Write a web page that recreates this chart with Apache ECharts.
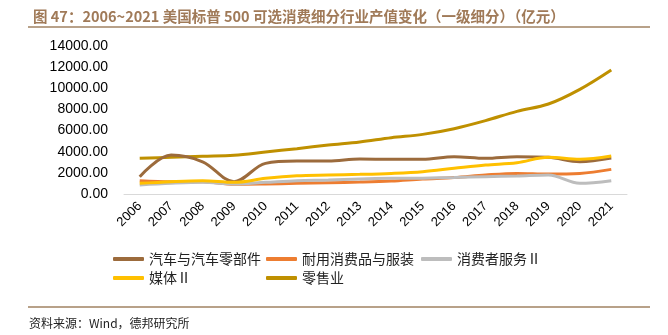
<!DOCTYPE html>
<html><head><meta charset="utf-8">
<script src="https://cdn.jsdelivr.net/npm/echarts@6/dist/echarts.min.js"></script>
<style>html,body{margin:0;padding:0;background:#fff}#c{width:668px;height:335px}</style>
</head><body><div id="c"></div>
<script>
const years = ['2006','2007','2008','2009','2010','2011','2012','2013','2014','2015','2016','2017','2018','2019','2020','2021'];
const autoParts = [1640, 3680, 3050, 1170, 2900, 3120, 3120, 3310, 3280, 3280, 3530, 3370, 3530, 3470, 3060, 3400];
const durables = [1260, 1170, 1170, 915, 950, 1010, 1070, 1130, 1230, 1420, 1550, 1800, 1950, 1890, 1950, 2330];
const consumerSvc = [850, 1010, 1100, 950, 1100, 1260, 1320, 1420, 1480, 1500, 1560, 1640, 1700, 1800, 1010, 1260];
const media = [1010, 1170, 1260, 1100, 1480, 1730, 1800, 1860, 1950, 2110, 2430, 2740, 2960, 3470, 3280, 3590];
const retail = [3380, 3470, 3570, 3660, 3970, 4290, 4630, 4920, 5330, 5640, 6180, 6940, 7820, 8510, 9900, 11730];
const yTicks = [0, 2000, 4000, 6000, 8000, 10000, 12000, 14000];
const names = ['汽车与汽车零部件','耐用消费品与服装','消费者服务Ⅱ','媒体Ⅱ','零售业'];
const colors = ['#9C6B3C','#ED7D31','#BDBDBD','#FFC000','#BF9000'];
const seriesData = [autoParts, durables, consumerSvc, media, retail];

const cjk = '"Noto Sans CJK SC", "Noto Sans", sans-serif';
const legendPos = [[113,252],[266,252],[421,252],[113,271],[266,271]];
const chart = echarts.init(document.getElementById('c'));
chart.setOption({
  animation: false,
  title: {
    text: '图 47：2006~2021 美国标普 500 可选消费细分行业产值变化（一级细分）（亿元）',
    left: 28, top: 4,
    textStyle: {fontSize: 14.5, fontWeight: 'bold', color: '#A07A58', fontFamily: cjk}
  },
  legend: names.map((n, i) => ({
    data: [n], left: legendPos[i][0], top: legendPos[i][1],
    icon: 'roundRect', itemWidth: 31, itemHeight: 4, padding: 0,
    textStyle: {fontSize: 14, color: '#222', fontFamily: cjk}
  })),
  grid: {left: 124, right: 41, top: 46, bottom: 141},
  xAxis: {
    type: 'category', data: years, boundaryGap: true,
    axisLine: {lineStyle: {color: '#D9D9D9', width: 1}},
    axisTick: {show: false},
    axisLabel: {rotate: 45, fontSize: 13, color: '#000', margin: 10, fontFamily: 'Liberation Sans, Arial, sans-serif', interval: 0}
  },
  yAxis: {
    type: 'value', min: yTicks[0], max: yTicks[yTicks.length-1], interval: 2000,
    axisLine: {show: false}, axisTick: {show: false}, splitLine: {show: false},
    axisLabel: {fontSize: 14, color: '#000', margin: 16, fontFamily: 'Liberation Sans, Arial, sans-serif',
      formatter: v => v.toFixed(2)}
  },
  series: names.map((n, i) => ({
    name: n, type: 'line', data: seriesData[i], smooth: 0.35, symbol: 'none',
    lineStyle: {width: 3, color: colors[i]}, itemStyle: {color: colors[i]},
    z: i === 4 ? 1 : 2
  })),
  graphic: [
    {type: 'line', shape: {x1: 28, y1: 27, x2: 650, y2: 27}, style: {stroke: '#A08262', lineWidth: 1.5}},
    {type: 'line', shape: {x1: 28, y1: 307, x2: 650, y2: 307}, style: {stroke: '#A08262', lineWidth: 1.5}},
    {type: 'text', left: 29, top: 317, style: {text: '资料来源：Wind，德邦研究所', fontSize: 12, fill: '#222', fontFamily: cjk}}
  ]
});
</script></body></html>
